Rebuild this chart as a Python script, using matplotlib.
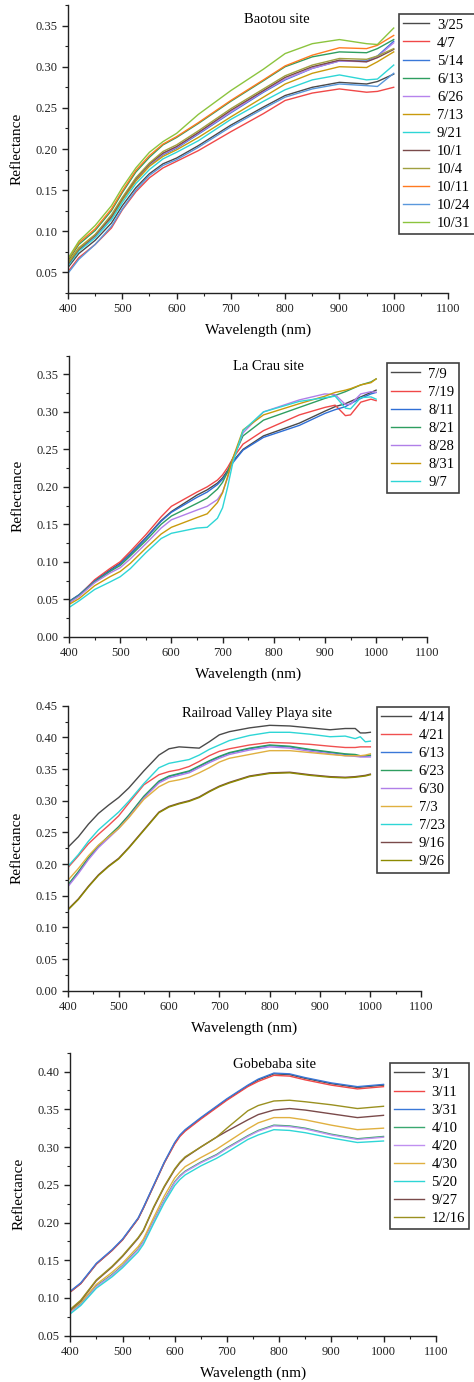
import matplotlib
matplotlib.use("Agg")
import matplotlib.pyplot as plt
from matplotlib.ticker import MultipleLocator, FormatStrFormatter

plt.rcParams['font.family'] = ['Liberation Serif', 'DejaVu Serif']

# ---------------- Baotou ----------------
bt_wl = [400, 420, 450, 480, 500, 525, 550, 575, 600, 640, 700, 760, 800, 850, 900, 950, 970, 1000]
bt_labels = ['3/25', '4/7', '5/14', '6/13', '6/26', '7/13', '9/21', '10/1', '10/4', '10/11', '10/24', '10/31']
bt_3_25 = [0.056, 0.073, 0.089, 0.110, 0.131, 0.153, 0.170, 0.182, 0.189, 0.204, 0.229, 0.251, 0.265, 0.275, 0.281, 0.279, 0.282, 0.291]
bt_4_7 = [0.051, 0.068, 0.084, 0.104, 0.126, 0.148, 0.165, 0.177, 0.185, 0.198, 0.221, 0.243, 0.259, 0.268, 0.273, 0.269, 0.270, 0.275]
bt_5_14 = [0.059, 0.077, 0.094, 0.116, 0.138, 0.162, 0.180, 0.193, 0.201, 0.218, 0.244, 0.269, 0.284, 0.298, 0.307, 0.307, 0.313, 0.331]
bt_6_13 = [0.064, 0.084, 0.101, 0.125, 0.147, 0.172, 0.190, 0.205, 0.214, 0.231, 0.258, 0.283, 0.300, 0.312, 0.318, 0.317, 0.322, 0.333]
bt_6_26 = [0.060, 0.078, 0.094, 0.117, 0.139, 0.163, 0.181, 0.194, 0.202, 0.219, 0.245, 0.270, 0.285, 0.298, 0.307, 0.306, 0.312, 0.329]
bt_7_13 = [0.062, 0.080, 0.096, 0.117, 0.138, 0.161, 0.179, 0.191, 0.199, 0.214, 0.239, 0.263, 0.279, 0.292, 0.300, 0.299, 0.306, 0.318]
bt_9_21 = [0.058, 0.076, 0.092, 0.114, 0.135, 0.158, 0.175, 0.188, 0.196, 0.210, 0.236, 0.258, 0.272, 0.284, 0.290, 0.284, 0.285, 0.302]
bt_10_1 = [0.060, 0.078, 0.095, 0.118, 0.140, 0.164, 0.182, 0.195, 0.203, 0.220, 0.247, 0.271, 0.287, 0.300, 0.308, 0.306, 0.311, 0.321]
bt_10_4 = [0.061, 0.079, 0.096, 0.120, 0.141, 0.165, 0.183, 0.197, 0.205, 0.222, 0.249, 0.273, 0.289, 0.302, 0.310, 0.309, 0.313, 0.322]
bt_10_11 = [0.066, 0.086, 0.103, 0.127, 0.149, 0.174, 0.192, 0.206, 0.215, 0.232, 0.259, 0.284, 0.301, 0.314, 0.323, 0.322, 0.326, 0.338]
bt_10_24 = [0.049, 0.066, 0.084, 0.106, 0.127, 0.150, 0.168, 0.180, 0.187, 0.202, 0.227, 0.249, 0.263, 0.273, 0.279, 0.277, 0.276, 0.292]
bt_10_31 = [0.067, 0.088, 0.107, 0.131, 0.153, 0.177, 0.196, 0.209, 0.219, 0.242, 0.271, 0.297, 0.316, 0.328, 0.333, 0.328, 0.327, 0.347]
bt_series = [bt_3_25, bt_4_7, bt_5_14, bt_6_13, bt_6_26, bt_7_13, bt_9_21, bt_10_1, bt_10_4, bt_10_11, bt_10_24, bt_10_31]
bt_colors = ['#4a4a4a', '#f04848', '#3a78d8', '#2e9e60', '#b683ec', '#c99a0c', '#2ed6d6', '#7a4a4a', '#a0a040', '#ff7a20', '#5a98dc', '#8cc43e']

# ---------------- La Crau ----------------
lc_wl = [400, 420, 450, 480, 500, 520, 550, 580, 600, 650, 670, 690, 700, 710, 720, 740, 780, 850, 900, 920, 940, 950, 970, 990, 1000]
lc_labels = ['7/9', '7/19', '8/11', '8/21', '8/28', '8/31', '9/7']
lc_7_9 = [0.047, 0.056, 0.075, 0.089, 0.098, 0.111, 0.132, 0.155, 0.167, 0.189, 0.196, 0.205, 0.212, 0.222, 0.234, 0.250, 0.268, 0.285, 0.301, 0.307, 0.311, 0.314, 0.320, 0.326, 0.329]
lc_7_19 = [0.045, 0.055, 0.076, 0.091, 0.100, 0.114, 0.136, 0.160, 0.174, 0.193, 0.200, 0.209, 0.216, 0.226, 0.238, 0.257, 0.275, 0.296, 0.306, 0.309, 0.295, 0.296, 0.313, 0.317, 0.315]
lc_8_11 = [0.047, 0.056, 0.074, 0.088, 0.097, 0.110, 0.131, 0.154, 0.166, 0.186, 0.193, 0.203, 0.210, 0.220, 0.232, 0.249, 0.266, 0.282, 0.298, 0.303, 0.307, 0.311, 0.318, 0.324, 0.326]
lc_8_21 = [0.046, 0.055, 0.073, 0.087, 0.095, 0.108, 0.128, 0.150, 0.161, 0.178, 0.185, 0.197, 0.206, 0.220, 0.238, 0.268, 0.289, 0.306, 0.318, 0.322, 0.327, 0.330, 0.336, 0.340, 0.344]
lc_8_28 = [0.045, 0.054, 0.072, 0.085, 0.092, 0.104, 0.124, 0.145, 0.156, 0.169, 0.174, 0.183, 0.193, 0.212, 0.237, 0.272, 0.300, 0.316, 0.324, 0.323, 0.310, 0.310, 0.324, 0.327, 0.326]
lc_8_31 = [0.043, 0.051, 0.068, 0.080, 0.087, 0.098, 0.118, 0.137, 0.146, 0.159, 0.164, 0.179, 0.192, 0.214, 0.238, 0.276, 0.296, 0.311, 0.321, 0.326, 0.329, 0.331, 0.336, 0.339, 0.344]
lc_9_7 = [0.039, 0.048, 0.063, 0.073, 0.080, 0.091, 0.112, 0.131, 0.138, 0.145, 0.146, 0.158, 0.172, 0.200, 0.232, 0.275, 0.300, 0.314, 0.319, 0.321, 0.305, 0.304, 0.319, 0.320, 0.317]
lc_series = [lc_7_9, lc_7_19, lc_8_11, lc_8_21, lc_8_28, lc_8_31, lc_9_7]
lc_colors = ['#4a4a4a', '#f04848', '#2f6fd6', '#2e9e60', '#b07fe8', '#c99a0c', '#2ed6d6']

# ---------------- Railroad Valley Playa ----------------
rv_wl = [400, 420, 440, 460, 480, 500, 520, 550, 580, 600, 620, 640, 660, 680, 700, 720, 760, 800, 840, 880, 920, 950, 970, 980, 990, 1000]
rv_labels = ['4/14', '4/21', '6/13', '6/23', '6/30', '7/3', '7/23', '9/16', '9/26']
rv_4_14 = [0.227, 0.243, 0.263, 0.280, 0.293, 0.305, 0.320, 0.347, 0.372, 0.382, 0.385, 0.384, 0.383, 0.393, 0.404, 0.409, 0.415, 0.419, 0.418, 0.415, 0.412, 0.414, 0.414, 0.407, 0.407, 0.408]
rv_4_21 = [0.195, 0.213, 0.232, 0.247, 0.261, 0.276, 0.296, 0.325, 0.341, 0.346, 0.349, 0.354, 0.362, 0.371, 0.378, 0.382, 0.388, 0.392, 0.391, 0.389, 0.386, 0.384, 0.384, 0.385, 0.385, 0.385]
rv_6_13 = [0.167, 0.187, 0.209, 0.228, 0.243, 0.258, 0.276, 0.306, 0.330, 0.338, 0.342, 0.346, 0.354, 0.362, 0.369, 0.375, 0.382, 0.387, 0.385, 0.380, 0.376, 0.373, 0.372, 0.370, 0.370, 0.371]
rv_6_23 = [0.168, 0.188, 0.210, 0.229, 0.244, 0.259, 0.277, 0.307, 0.331, 0.339, 0.343, 0.347, 0.355, 0.363, 0.370, 0.376, 0.383, 0.388, 0.386, 0.381, 0.377, 0.374, 0.373, 0.371, 0.371, 0.372]
rv_6_30 = [0.165, 0.185, 0.207, 0.226, 0.241, 0.256, 0.274, 0.304, 0.328, 0.336, 0.340, 0.344, 0.352, 0.360, 0.367, 0.373, 0.380, 0.385, 0.383, 0.378, 0.374, 0.371, 0.370, 0.369, 0.369, 0.369]
rv_7_3 = [0.175, 0.193, 0.213, 0.230, 0.243, 0.256, 0.273, 0.302, 0.322, 0.330, 0.333, 0.337, 0.344, 0.352, 0.361, 0.367, 0.373, 0.379, 0.379, 0.376, 0.373, 0.371, 0.371, 0.371, 0.372, 0.374]
rv_7_23 = [0.197, 0.215, 0.236, 0.254, 0.268, 0.282, 0.299, 0.327, 0.352, 0.359, 0.362, 0.365, 0.372, 0.381, 0.388, 0.395, 0.403, 0.408, 0.408, 0.405, 0.401, 0.402, 0.398, 0.401, 0.393, 0.394]
rv_9_16 = [0.129, 0.145, 0.165, 0.183, 0.197, 0.209, 0.226, 0.254, 0.282, 0.291, 0.296, 0.300, 0.306, 0.315, 0.323, 0.329, 0.339, 0.344, 0.345, 0.341, 0.338, 0.337, 0.338, 0.339, 0.340, 0.342]
rv_9_26 = [0.128, 0.144, 0.164, 0.182, 0.196, 0.208, 0.225, 0.253, 0.281, 0.290, 0.295, 0.299, 0.305, 0.314, 0.322, 0.328, 0.338, 0.343, 0.344, 0.340, 0.337, 0.336, 0.337, 0.338, 0.339, 0.341]
rv_series = [rv_4_14, rv_4_21, rv_6_13, rv_6_23, rv_6_30, rv_7_3, rv_7_23, rv_9_16, rv_9_26]
rv_colors = ['#4a4a4a', '#f05050', '#3a78d8', '#2e9e60', '#b07fe8', '#e0b040', '#2ed6d6', '#7a4a4a', '#8c8a00']

# ---------------- Gobabeb ----------------
gb_wl = [400, 420, 450, 480, 500, 530, 540, 560, 580, 600, 610, 620, 650, 680, 700, 740, 760, 790, 820, 850, 900, 950, 1000]
gb_labels = ['3/1', '3/11', '3/31', '4/10', '4/20', '4/30', '5/20', '9/27', '12/16']
gb_3_1 = [0.108, 0.119, 0.145, 0.163, 0.177, 0.205, 0.219, 0.249, 0.279, 0.305, 0.315, 0.322, 0.338, 0.353, 0.363, 0.381, 0.389, 0.397, 0.396, 0.391, 0.384, 0.379, 0.382]
gb_3_11 = [0.108, 0.119, 0.145, 0.163, 0.177, 0.205, 0.219, 0.249, 0.279, 0.304, 0.314, 0.321, 0.337, 0.352, 0.362, 0.380, 0.387, 0.395, 0.394, 0.389, 0.382, 0.377, 0.380]
gb_3_31 = [0.109, 0.120, 0.146, 0.164, 0.178, 0.206, 0.220, 0.250, 0.280, 0.306, 0.316, 0.323, 0.339, 0.354, 0.364, 0.382, 0.390, 0.398, 0.397, 0.392, 0.385, 0.380, 0.383]
gb_4_10 = [0.082, 0.092, 0.116, 0.131, 0.143, 0.165, 0.175, 0.203, 0.230, 0.254, 0.262, 0.268, 0.280, 0.290, 0.299, 0.315, 0.322, 0.329, 0.328, 0.325, 0.317, 0.311, 0.314]
gb_4_20 = [0.081, 0.091, 0.115, 0.130, 0.142, 0.164, 0.174, 0.202, 0.229, 0.253, 0.261, 0.267, 0.279, 0.289, 0.298, 0.314, 0.321, 0.328, 0.327, 0.324, 0.316, 0.310, 0.313]
gb_4_30 = [0.083, 0.094, 0.118, 0.134, 0.146, 0.168, 0.178, 0.207, 0.235, 0.259, 0.267, 0.274, 0.286, 0.297, 0.306, 0.324, 0.332, 0.339, 0.339, 0.336, 0.329, 0.323, 0.325]
gb_5_20 = [0.079, 0.090, 0.113, 0.128, 0.140, 0.161, 0.171, 0.199, 0.226, 0.249, 0.257, 0.263, 0.275, 0.285, 0.293, 0.310, 0.316, 0.323, 0.322, 0.319, 0.312, 0.306, 0.308]
gb_9_27 = [0.084, 0.096, 0.123, 0.141, 0.155, 0.179, 0.189, 0.220, 0.247, 0.270, 0.279, 0.286, 0.300, 0.313, 0.321, 0.336, 0.343, 0.349, 0.351, 0.349, 0.344, 0.339, 0.342]
gb_12_16 = [0.085, 0.097, 0.124, 0.142, 0.156, 0.180, 0.190, 0.221, 0.248, 0.271, 0.280, 0.287, 0.300, 0.313, 0.325, 0.348, 0.355, 0.361, 0.362, 0.360, 0.356, 0.351, 0.354]
gb_series = [gb_3_1, gb_3_11, gb_3_31, gb_4_10, gb_4_20, gb_4_30, gb_5_20, gb_9_27, gb_12_16]
gb_colors = ['#4a4a4a', '#f04848', '#3a78d8', '#3aa870', '#c090f0', '#e0b040', '#2ed6d6', '#7a4a4a', '#9a9020']

W, H = 474, 1382
fig = plt.figure(figsize=(W / 100, H / 100), dpi=100)


def px_axes(left, top, right, bottom):
    return [left / W, 1 - bottom / H, (right - left) / W, (bottom - top) / H]


panels = [
    dict(rect=px_axes(68, 5, 448, 293), wl=bt_wl, series=bt_series, labels=bt_labels, colors=bt_colors,
         ylim=(0.025, 0.375), title='Baotou site', tpos=(0.549, 0.948), leg=(399, 14), hl=1.75),
    dict(rect=px_axes(69, 355.7, 427.3, 636.7), wl=lc_wl, series=lc_series, labels=lc_labels, colors=lc_colors,
         ylim=(0.0, 0.375), title='La Crau site', tpos=(0.556, 0.961), leg=(386.7, 363), hl=2.0),
    dict(rect=px_axes(68.3, 705.7, 420.7, 990.7), wl=rv_wl, series=rv_series, labels=rv_labels, colors=rv_colors,
         ylim=(0.0, 0.45), title='Railroad Valley Playa site', tpos=(0.535, 0.973), leg=(377, 706.7), hl=2.0),
    dict(rect=px_axes(70.3, 1052.7, 435.7, 1335.7), wl=gb_wl, series=gb_series, labels=gb_labels, colors=gb_colors,
         ylim=(0.05, 0.425), title='Gobebaba site', tpos=(0.560, 0.960), leg=(390, 1063), hl=2.0),
]

for p in panels:
    ax = fig.add_axes(p['rect'])
    handles = []
    for ys, lab, c in zip(p['series'], p['labels'], p['colors']):
        h, = ax.plot(p['wl'], ys, color=c, lw=1.0, label=lab)
        handles.append(h)
    ax.set_xlim(400, 1100)
    ax.set_ylim(*p['ylim'])
    ax.xaxis.set_major_locator(MultipleLocator(100))
    ax.xaxis.set_minor_locator(MultipleLocator(50))
    ax.yaxis.set_major_locator(MultipleLocator(0.05))
    ax.yaxis.set_minor_locator(MultipleLocator(0.025))
    ax.yaxis.set_major_formatter(FormatStrFormatter('%.2f'))
    for s in ['top', 'right']:
        ax.spines[s].set_visible(False)
    for s in ['left', 'bottom']:
        ax.spines[s].set_linewidth(1.0)
        ax.spines[s].set_color('#222222')
    ax.tick_params(which='major', direction='out', length=4, width=1.0, labelsize=9, colors='#222222')
    ax.tick_params(which='minor', direction='out', length=2, width=0.8, colors='#222222')
    ax.set_xlabel('Wavelength (nm)', fontsize=11, labelpad=6)
    ax.set_ylabel('Reflectance', fontsize=11, labelpad=9)
    ax.text(p['tpos'][0], p['tpos'][1], p['title'], transform=ax.transAxes,
            ha='center', va='center', fontsize=10.5)
    lx, ly = p['leg']
    leg = fig.legend(handles=handles, loc='upper left', bbox_to_anchor=(lx / W, 1 - ly / H),
                     bbox_transform=fig.transFigure, fontsize=10.5, frameon=True, fancybox=False,
                     handlelength=p['hl'], handletextpad=0.55, labelspacing=0.33, borderpad=0.3,
                     borderaxespad=0.0)
    leg.get_frame().set_edgecolor('#111111')
    leg.get_frame().set_linewidth(1.2)

fig.savefig('out.png', dpi=100)
